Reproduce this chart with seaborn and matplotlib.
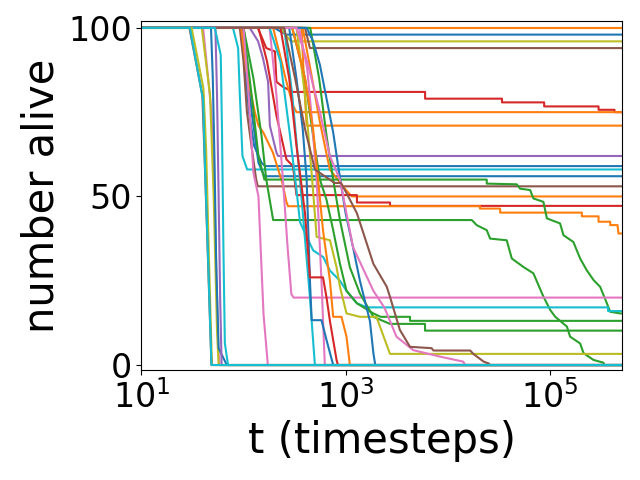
import numpy as np
import pandas as pd
import seaborn as sns
import matplotlib
matplotlib.use("Agg")
import matplotlib.pyplot as plt

# tab10 colour indices
BLUE, ORANGE, GREEN, RED, PURPLE, BROWN, PINK, GRAY, OLIVE, CYAN = range(10)
T_END = 5.1e5

# survivors at (or near) the top
olive100_t = [10, T_END]
olive100_n = [100, 100]
orange100_t = [10, T_END]
orange100_n = [100, 100]
blue98_t = [10, 200, 260, T_END]
blue98_n = [100, 100, 98, 98]
olive96_t = [10, 230, 290, T_END]
olive96_n = [100, 100, 96, 96]
brown94_t = [10, 400, 447, T_END]
brown94_n = [100, 100, 94, 94]

# the slowly decaying red one
red81_t = [10, 138, 167, 203, 210, 243, 305, 6000, 6000, 3.4e4, 3.4e4, 8.8e4, 8.8e4, 3e5, 3e5, 4.3e5, 4.3e5, T_END]
red81_n = [100, 100, 94, 93, 84, 82.5, 81, 81, 79, 79, 77.9, 77.9, 76.7, 76.7, 75.7, 75.7, 75, 75]

orange75_t = [10, 195, 227, 263, 305, 330, T_END]
orange75_n = [100, 100, 92, 84, 77, 75, 75]
orange71_t = [10, 370, 390, 415, T_END]
orange71_n = [100, 100, 85, 71, 71]
purple62_t = [10, 115, 139, 155, 174, 181, 210, 218, T_END]
purple62_n = [100, 100, 96, 91, 84, 71, 63, 62, 62]
blue59_t = [10, 96, 113, 127, 150, 163, T_END]
blue59_n = [100, 100, 75, 65, 60, 59, 59]
cyan58_t = [10, 78.8, 88.5, 92, 97.6, 108.5, T_END]
cyan58_n = [100, 100, 94, 80, 62, 58, 58]
blue56_t = [10, 100, 120, 140, 160, T_END]
blue56_n = [100, 100, 75, 60, 56, 56]
brown53_t = [10, 92, 100, 108, 122, 133, 138, T_END]
brown53_n = [100, 100, 90, 75, 63, 55, 53, 53]
orange50_t = [10, 380, 450, 560, 700, 1000, 1150, T_END]
orange50_n = [100, 100, 88, 72, 58, 52, 50, 50]
red47_t = [10, 140, 170, 210, 263, 305, 330, 1290, 1290, 2720, 2720, T_END]
red47_n = [100, 100, 90, 74, 61, 59, 50.4, 50.4, 48.2, 48.2, 47.2, 47.2]

orange39_t = [10, 95, 107, 129, 140, 156, 194, 240, 263, 273, 2.07e4, 2.07e4, 3.26e4, 3.26e4,
              2.06e5, 2.06e5, 3e5, 3e5, 3.9e5, 3.9e5, 4.6e5, 4.7e5, T_END]
orange39_n = [100, 100, 87, 75, 71, 69, 63, 54, 48.4, 47.1, 47.1, 46.4, 46.4, 45.2,
              45.2, 44.1, 44.1, 42.5, 42.5, 41.5, 41.5, 39, 39]

green15_t = [10, 100, 120, 140, 160, 2.41e4, 2.41e4, 4.74e4, 5.12e4, 6.41e4, 6.9e4, 8.65e4, 9.35e4,
             1.26e5, 1.36e5, 1.7e5, 1.98e5, 2.3e5, 2.68e5, 3.11e5, 3.62e5, 3.9e5, 4.89e5, T_END]
green15_n = [100, 100, 80, 62, 55, 55, 53.8, 53.6, 52.3, 51.9, 49.4, 48.4, 43.5,
             42, 38.5, 36.5, 31.6, 28.1, 25.2, 23.2, 18.3, 15.8, 15.3, 15.3]

green0_t = [10, 100, 125, 150, 167, 195, 1.72e4, 1.92e4, 2.41e4, 2.6e4, 3.78e4, 4.24e4, 5.5e4, 6.9e4,
            8.65e4, 1.01e5, 1.13e5, 1.47e5, 1.58e5, 1.98e5, 2.14e5, 2.68e5, 3.35e5, 3.4e5, T_END]
green0_n = [100, 100, 85, 68, 55, 43, 43, 41.5, 40, 37.5, 37, 31.6, 29.1, 27.2,
            20.3, 16.3, 14.3, 11.4, 8.4, 6.4, 3.5, 1.5, 0.7, 0, 0]

pink20_t = [10, 180, 210, 243, 270, 294, 310, T_END]
pink20_n = [100, 100, 80, 55, 35, 21, 20, 20]
cyan17_t = [10, 180, 230, 280, 330, 357, 415, 481, 604, 702, 880, 1020, 1290, 1620, 3.72e5, 3.72e5, T_END]
cyan17_n = [100, 100, 90, 70, 52, 42.4, 38, 34, 32, 28, 25, 22, 18.3, 17.1, 17.1, 16, 16]
green13_t = [10, 300, 400, 480, 560, 650, 755, 880, 1020, 1290, 1870, 2200, 4270, 4270, T_END]
green13_n = [100, 100, 85, 68, 55, 49, 40, 30, 22, 18.3, 15.3, 14.3, 14.3, 13.1, 13.1]
green10_t = [10, 450, 550, 650, 755, 880, 1100, 1380, 1870, 2720, 5990, 5990, T_END]
green10_n = [100, 100, 85, 68, 55, 43, 29, 21.2, 14.3, 12.2, 12.2, 10.2, 10.2]
olive3_t = [10, 330, 400, 470, 520, 702, 815, 880, 1020, 1380, 2000, 2720, T_END]
olive3_n = [100, 100, 80, 55, 38, 37, 29, 23.2, 15.3, 14.3, 14.3, 3.3, 3.3]

# runs that die out in the middle
pink173_t = [10, 100, 112, 125, 140, 147, 157, 173, T_END]
pink173_n = [100, 100, 80, 57, 50, 35, 15, 0, 0]
cyan500_t = [10, 250, 300, 357, 447, 500, T_END]
cyan500_n = [100, 100, 80, 55, 20, 0, 0]
pink625_t = [10, 350, 420, 470, 520, 580, 625, T_END]
pink625_n = [100, 100, 88, 72, 55, 25, 0, 0]
blue755_t = [10, 280, 330, 380, 415, 447, 465, 580, 650, 755, T_END]
blue755_n = [100, 100, 85, 70, 55, 25, 13.3, 13.3, 7.4, 0, 0]
red840_t = [10, 230, 280, 330, 400, 447, 600, 650, 702, 815, 840, T_END]
red840_n = [100, 100, 85, 65, 45, 26, 26, 20, 13, 1.5, 0, 0]
orange1100_t = [10, 300, 400, 480, 537, 600, 702, 755, 910, 1020, 1100, T_END]
orange1100_n = [100, 100, 85, 70, 55, 40, 25, 14.3, 14.3, 8.4, 0, 0]
blue1950_t = [10, 415, 480, 560, 650, 755, 845, 1000, 1180, 1380, 1730, 1870, 1950, T_END]
blue1950_n = [100, 100, 96, 89, 79, 69, 59, 45, 35, 25, 13, 3.5, 0, 0]
pink1e4_t = [10, 330, 420, 560, 700, 880, 1180, 1870, 2400, 3150, 4600, 8400, 1.42e4, 1.48e4, T_END]
pink1e4_n = [100, 100, 90, 75, 62, 55, 35, 22, 17, 8.4, 4.4, 2.5, 1, 0, 0]
brown2e4_t = [10, 250, 320, 400, 500, 780, 900, 1020, 1290, 1870, 2530, 2720, 3400, 4270, 6950, 7240,
              1.66e4, 1.78e4, 2.25e4, 2.5e4, 2.6e4, T_END]
brown2e4_n = [100, 100, 85, 70, 58, 54, 54, 51, 45, 30, 23.2, 20.2, 10.4, 5.4, 5, 4.3,
              4.3, 3.3, 1, 0.5, 0, 0]

# runs that die out early
pink58_t = [10, 40.2, 48.5, 52.3, 56.5, 58, T_END]
pink58_n = [100, 100, 75, 46, 6, 0, 0]
olive57_t = [10, 39, 47, 51, 55, 57, T_END]
olive57_n = [100, 100, 80, 50, 10, 0, 0]
blue68_t = [10, 48, 50, 52, 54, 57, 68.6, T_END]
blue68_n = [100, 100, 85, 60, 30, 5, 0, 0]
purple61_t = [10, 53, 55, 57, 59, 61, T_END]
purple61_n = [100, 100, 80, 50, 20, 0, 0]
cyan70_t = [10, 52.3, 59.8, 61.5, 63.5, 65.6, 70.5, T_END]
cyan70_n = [100, 100, 92, 70, 35, 6.5, 0, 0]
olive49_t = [10, 31, 40.5, 43, 46, 49, T_END]
olive49_n = [100, 100, 82, 64, 30, 0, 0]
brown48_t = [10, 29.5, 39.5, 41.5, 45, 48.5, T_END]
brown48_n = [100, 100, 80, 62, 30, 0, 0]
cyan48_t = [10, 29.8, 40.2, 41.7, 45, 48.5, T_END]
cyan48_n = [100, 100, 78.5, 61, 31, 0, 0]

runs = [
    (OLIVE, olive100_t, olive100_n), (ORANGE, orange100_t, orange100_n),
    (BLUE, blue98_t, blue98_n), (OLIVE, olive96_t, olive96_n), (BROWN, brown94_t, brown94_n),
    (RED, red81_t, red81_n), (ORANGE, orange75_t, orange75_n), (ORANGE, orange71_t, orange71_n),
    (PURPLE, purple62_t, purple62_n), (BLUE, blue59_t, blue59_n), (CYAN, cyan58_t, cyan58_n),
    (BLUE, blue56_t, blue56_n), (BROWN, brown53_t, brown53_n), (ORANGE, orange50_t, orange50_n),
    (RED, red47_t, red47_n), (ORANGE, orange39_t, orange39_n), (GREEN, green15_t, green15_n),
    (GREEN, green0_t, green0_n), (PINK, pink20_t, pink20_n), (CYAN, cyan17_t, cyan17_n),
    (GREEN, green13_t, green13_n), (GREEN, green10_t, green10_n), (OLIVE, olive3_t, olive3_n),
    (PINK, pink173_t, pink173_n), (CYAN, cyan500_t, cyan500_n), (PINK, pink625_t, pink625_n),
    (BLUE, blue755_t, blue755_n), (RED, red840_t, red840_n), (ORANGE, orange1100_t, orange1100_n),
    (BLUE, blue1950_t, blue1950_n), (PINK, pink1e4_t, pink1e4_n), (BROWN, brown2e4_t, brown2e4_n),
    (PINK, pink58_t, pink58_n), (OLIVE, olive57_t, olive57_n), (BLUE, blue68_t, blue68_n),
    (PURPLE, purple61_t, purple61_n), (CYAN, cyan70_t, cyan70_n), (OLIVE, olive49_t, olive49_n),
    (BROWN, brown48_t, brown48_n), (CYAN, cyan48_t, cyan48_n),
]

palette = sns.color_palette("tab10")

fig, ax = plt.subplots(figsize=(6.4, 4.8), dpi=100)
ax.set_xscale("log")
for ci, t, n in runs:
    sns.lineplot(x=t, y=n, color=palette[ci], ax=ax, estimator=None, sort=False, lw=1.5)

ax.set_xlim(10, T_END)
ax.set_ylim(-1.5, 102)
ax.set_yticks([0, 50, 100])
ax.tick_params(labelsize=24)
ax.set_xlabel("t (timesteps)", fontsize=30)
ax.set_ylabel("number alive", fontsize=30)
fig.subplots_adjust(left=0.221, right=0.972, bottom=0.229, top=0.956)
fig.savefig("out.png", dpi=100)
